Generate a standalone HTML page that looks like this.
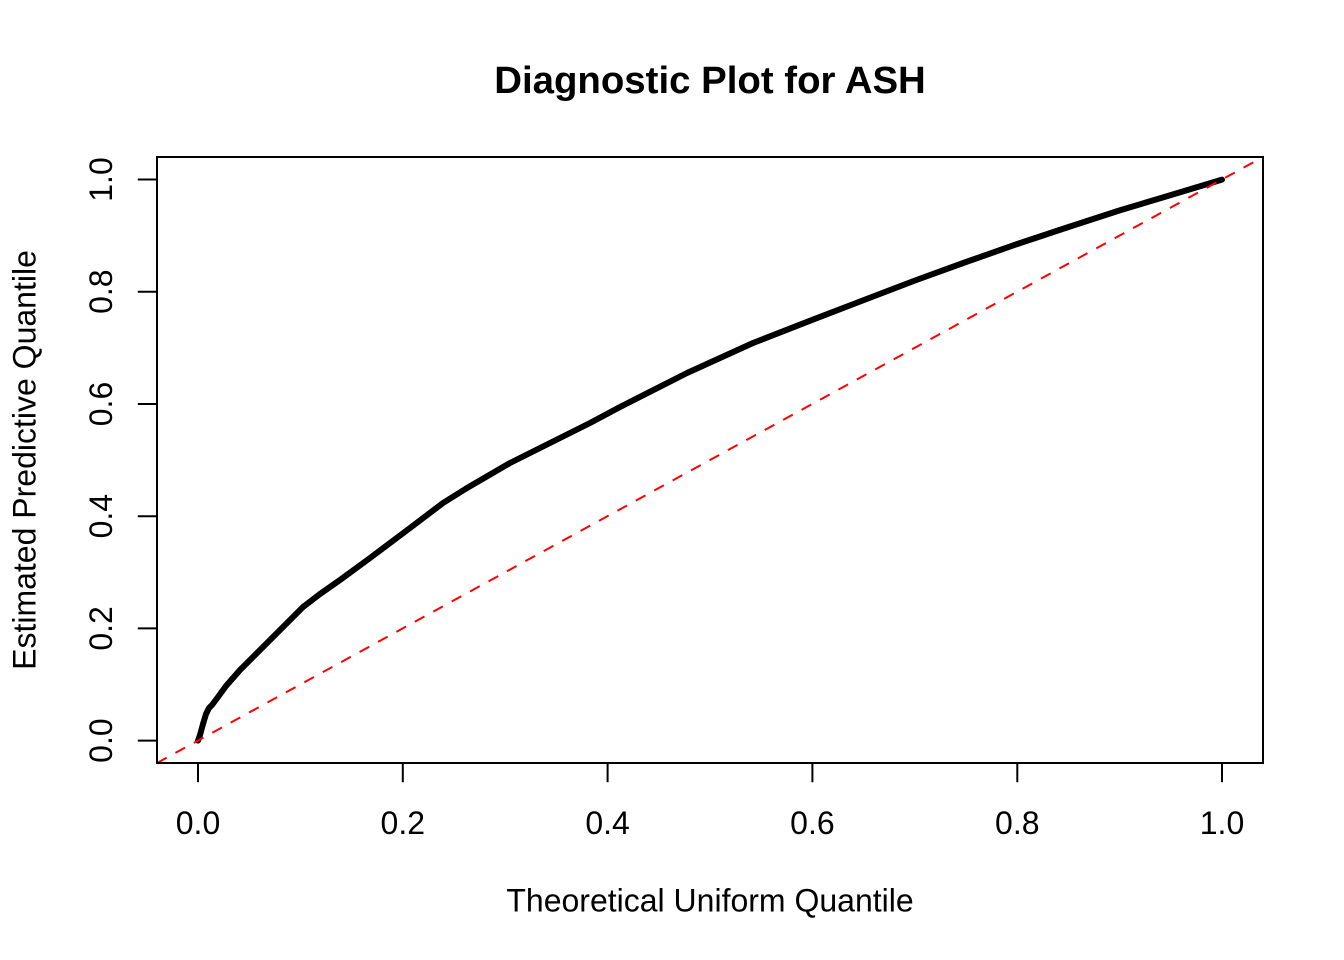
<!DOCTYPE html>
<html>
<head>
<meta charset="utf-8">
<style>
  html, body { margin: 0; padding: 0; background: #ffffff; }
  svg { display: block; }
  text { font-family: "Liberation Sans", Arial, Helvetica, sans-serif; fill: #000; }
</style>
</head>
<body>
<svg width="1344" height="960" viewBox="0 0 1344 960" xmlns="http://www.w3.org/2000/svg">
  <rect x="0" y="0" width="1344" height="960" fill="#ffffff"/>

  <!-- Title -->
  <text x="710" y="93" font-size="38.4" font-weight="bold" text-anchor="middle">Diagnostic Plot for ASH</text>

  <defs>
    <clipPath id="plotclip">
      <rect x="157" y="157" width="1106" height="606"/>
    </clipPath>
  </defs>

  <!-- Curve -->
  <g clip-path="url(#plotclip)">
    <polyline fill="none" stroke="#000" stroke-width="6" stroke-linejoin="round" stroke-linecap="round"
      points="198,740.6 200,735 203,724 206,714 209,708 212,705 218,697 226,686 240,670 263,647 285,625 303,607 320,594 340,580 370,558 410,528 443,503 467,488 510,463 550,443 590,423 620,407 687,373 753,343 812.4,319.8 864,300 915,280.5 966,262 1017.3,244 1068.5,227 1119.7,210.4 1171,195 1222,179.6"/>
    <!-- Red dashed diagonal -->
    <line x1="157" y1="763" x2="1263" y2="157" stroke="#ff0000" stroke-width="2" stroke-dasharray="11 10"/>
  </g>

  <!-- Plot box -->
  <rect x="157" y="157" width="1106" height="606" fill="none" stroke="#000" stroke-width="2"/>

  <!-- X axis ticks -->
  <g stroke="#000" stroke-width="2">
    <line x1="198" y1="763" x2="198" y2="782.2"/>
    <line x1="402.8" y1="763" x2="402.8" y2="782.2"/>
    <line x1="607.6" y1="763" x2="607.6" y2="782.2"/>
    <line x1="812.4" y1="763" x2="812.4" y2="782.2"/>
    <line x1="1017.3" y1="763" x2="1017.3" y2="782.2"/>
    <line x1="1222" y1="763" x2="1222" y2="782.2"/>
  </g>
  <g font-size="32" text-anchor="middle">
    <text x="198" y="834">0.0</text>
    <text x="402.8" y="834">0.2</text>
    <text x="607.6" y="834">0.4</text>
    <text x="812.4" y="834">0.6</text>
    <text x="1017.3" y="834">0.8</text>
    <text x="1222" y="834">1.0</text>
  </g>

  <!-- Y axis ticks -->
  <g stroke="#000" stroke-width="2">
    <line x1="157" y1="740.6" x2="137.8" y2="740.6"/>
    <line x1="157" y1="628.4" x2="137.8" y2="628.4"/>
    <line x1="157" y1="516.2" x2="137.8" y2="516.2"/>
    <line x1="157" y1="404" x2="137.8" y2="404"/>
    <line x1="157" y1="291.7" x2="137.8" y2="291.7"/>
    <line x1="157" y1="179.5" x2="137.8" y2="179.5"/>
  </g>
  <g font-size="32" text-anchor="middle">
    <text transform="translate(112,740.6) rotate(-90)">0.0</text>
    <text transform="translate(112,628.4) rotate(-90)">0.2</text>
    <text transform="translate(112,516.2) rotate(-90)">0.4</text>
    <text transform="translate(112,404) rotate(-90)">0.6</text>
    <text transform="translate(112,291.7) rotate(-90)">0.8</text>
    <text transform="translate(112,179.5) rotate(-90)">1.0</text>
  </g>

  <!-- Axis labels -->
  <text x="710" y="911.5" font-size="32" text-anchor="middle">Theoretical Uniform Quantile</text>
  <text transform="translate(35.5,460) rotate(-90)" font-size="32" text-anchor="middle">Estimated Predictive Quantile</text>
</svg>
</body>
</html>
